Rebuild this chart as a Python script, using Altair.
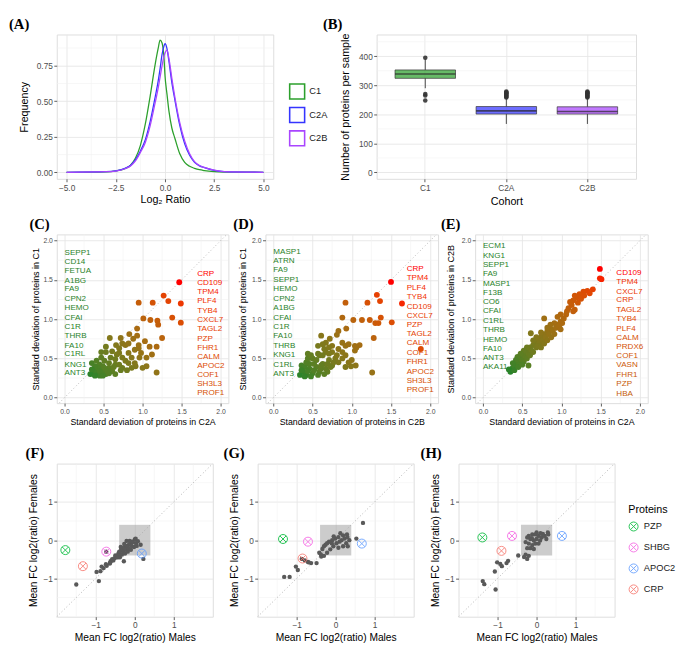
import altair as alt
import pandas as pd

SANS = "Liberation Sans"
SERIF = "Liberation Serif"
AXIS_TXT = "#4d4d4d"
GRID_MAJ = "#e6e6e6"
GRID_MIN = "#f2f2f2"
TICK_C = "#333333"
BORDER = "#7f7f7f"

# ---------------- (A) density of log2 ratios ----------------
cohorts = ["C1", "C2A", "C2B"]
cohort_colors = ["#2ca02c", "#3535ff", "#a945ff"]
dens_x = [-5.0, -3.0, -2.5, -2.0, -1.75, -1.5, -1.25, -1.0, -0.75, -0.5, -0.35, -0.25, -0.15, -0.05,
          0.0, 0.1, 0.2, 0.35, 0.5, 0.75, 1.0, 1.25, 1.5, 1.75, 2.0, 2.5, 3.0, 5.0]
dens_c1 = [0, 0.003, 0.01, 0.028, 0.05, 0.10, 0.19, 0.34, 0.54, 0.76, 0.87, 0.93, 0.91, 0.80,
           0.68, 0.55, 0.43, 0.31, 0.24, 0.13, 0.07, 0.042, 0.028, 0.018, 0.012, 0.005, 0.002, 0]
dens_c2a = [0, 0.004, 0.01, 0.03, 0.05, 0.09, 0.15, 0.23, 0.36, 0.53, 0.64, 0.73, 0.83, 0.89,
            0.905, 0.87, 0.78, 0.63, 0.51, 0.33, 0.20, 0.12, 0.07, 0.045, 0.033, 0.014, 0.005, 0]
dens_c2b = [0, 0.004, 0.009, 0.027, 0.045, 0.08, 0.14, 0.21, 0.33, 0.49, 0.59, 0.67, 0.75, 0.82,
            0.84, 0.86, 0.80, 0.66, 0.53, 0.35, 0.22, 0.13, 0.075, 0.048, 0.034, 0.015, 0.005, 0]

# ---------------- (B) proteins per sample ----------------
box_q1 = [324, 201, 201]
box_med = [339, 212, 210]
box_q3 = [353, 227, 226]
box_lo = [290, 167, 167]
box_hi = [390, 253, 253]
out_cohort = ["C1", "C1", "C1", "C1",
              "C2A", "C2A", "C2A", "C2A", "C2A", "C2A", "C2A", "C2A",
              "C2B", "C2B", "C2B", "C2B", "C2B", "C2B", "C2B", "C2B"]
out_value = [395, 270, 265, 248,
             258, 261, 264, 267, 270, 273, 276, 279,
             258, 261, 264, 267, 270, 273, 276, 279]

# ---------------- (C) SD C2A vs C1 ----------------
c_pts = [(1.47, 1.47), (1.49, 1.20), (1.49, 0.955), (1.27, 1.30), (1.33, 1.23), (1.13, 1.21), (0.95, 1.21),
         (1.38, 1.02), (1.01, 1.01), (1.10, 0.99), (1.19, 0.98), (1.20, 0.93), (1.25, 0.76), (1.18, 0.65),
         (0.93, 0.88), (0.93, 0.79), (1.05, 0.40), (1.00, 0.38), (0.91, 0.40), (1.18, 0.32), (1.03, 0.72),
         (0.83, 0.81), (0.72, 0.76), (0.58, 0.76), (0.95, 0.63), (0.74, 0.69), (0.66, 0.67), (0.53, 0.65),
         (0.47, 0.58), (0.82, 0.57), (0.90, 0.61), (0.98, 0.57), (1.05, 0.51), (1.12, 0.55), (0.35, 0.44),
         (0.74, 0.51), (0.67, 0.55), (0.59, 0.51), (0.51, 0.47), (0.45, 0.42), (0.82, 0.44), (0.74, 0.38),
         (0.65, 0.42), (0.57, 0.38), (0.49, 0.34), (0.43, 0.31), (0.37, 0.30), (0.39, 0.35), (0.53, 0.30),
         (0.61, 0.34), (0.70, 0.42), (0.78, 0.47), (0.86, 0.51), (0.57, 0.44), (0.49, 0.40), (0.43, 0.38),
         (0.47, 0.51), (0.53, 0.58), (0.61, 0.59), (0.70, 0.63), (0.78, 0.67), (0.65, 0.49), (0.39, 0.40),
         (0.33, 0.30), (0.45, 0.28), (0.35, 0.36), (0.41, 0.47), (0.51, 0.38), (0.55, 0.34), (0.63, 0.39),
         (0.72, 0.35), (0.86, 0.38), (0.80, 0.35), (0.45, 0.34), (0.39, 0.28), (0.49, 0.28), (0.57, 0.31),
         (0.65, 0.30), (0.70, 0.57), (0.82, 0.69), (0.88, 0.75), (0.95, 0.67), (1.09, 0.65), (0.90, 0.44),
         (0.96, 0.51)]
c_green = ["SEPP1", "CD14", "FETUA", "A1BG", "FA9", "CPN2", "HEMO", "CFAI", "C1R", "THRB", "FA10",
           "C1RL", "KNG1", "ANT3"]
c_green_y = [1.84, 1.73, 1.61, 1.49, 1.38, 1.26, 1.14, 1.01, 0.90, 0.78, 0.66, 0.55, 0.42, 0.31]
c_red = ["CRP", "CD109", "TPM4", "PLF4", "TYB4", "CXCL7", "TAGL2", "PZP", "FHR1", "CALM", "APOC2",
         "COF1", "SH3L3", "PROF1"]
c_red_y = [1.576, 1.465, 1.346, 1.226, 1.107, 0.988, 0.868, 0.745, 0.63, 0.514, 0.40, 0.284, 0.177, 0.062]
c_red_v = [2.94, 2.85, 2.80, 2.75, 2.70, 2.66, 2.62, 2.58, 2.54, 2.50, 2.47, 2.44, 2.41, 2.38]
c_cdom = [0.62, 2.94]

# ---------------- (D) SD C2B vs C1 ----------------
d_pts = [(1.50, 1.475), (1.64, 1.20), (1.51, 0.96), (1.32, 1.31), (1.36, 1.23), (1.20, 1.21), (0.92, 1.21),
         (1.37, 1.02), (1.13, 0.99), (1.23, 0.99), (1.30, 0.95), (1.34, 0.95), (1.02, 0.99), (0.88, 1.02),
         (1.28, 0.76), (0.93, 0.88), (1.88, 0.62), (1.26, 0.32), (1.05, 0.41), (0.99, 0.40), (0.92, 0.39),
         (1.10, 0.67), (0.81, 0.80), (1.04, 0.66), (0.83, 0.85), (0.72, 0.75), (0.61, 0.79), (0.67, 0.70),
         (0.75, 0.66), (0.88, 0.70), (0.92, 0.66), (0.96, 0.68), (1.06, 0.64), (0.83, 0.62), (0.75, 0.58),
         (0.67, 0.58), (0.59, 0.54), (0.50, 0.50), (0.44, 0.56), (0.46, 0.43), (0.36, 0.41), (0.38, 0.33),
         (0.34, 0.29), (0.42, 0.29), (0.50, 0.31), (0.59, 0.33), (0.67, 0.37), (0.75, 0.41), (0.83, 0.45),
         (0.88, 0.50), (0.79, 0.50), (0.71, 0.48), (0.63, 0.43), (0.55, 0.39), (0.46, 0.37), (0.40, 0.39),
         (0.55, 0.48), (0.63, 0.54), (0.71, 0.56), (0.42, 0.45), (0.52, 0.43), (0.61, 0.37), (0.69, 0.33),
         (0.48, 0.27), (0.40, 0.27), (0.57, 0.29), (0.36, 0.35), (0.44, 0.34), (0.52, 0.35), (0.61, 0.41),
         (0.69, 0.43), (0.77, 0.45), (0.96, 0.45), (1.00, 0.48), (0.92, 0.54), (0.81, 0.54), (0.44, 0.50),
         (0.48, 0.54), (0.57, 0.56), (0.65, 0.62), (0.57, 0.66), (0.63, 0.68), (0.71, 0.64), (1.04, 0.60),
         (0.88, 0.58), (0.73, 0.39), (0.65, 0.30)]
d_green = ["MASP1", "ATRN", "FA9", "SEPP1", "HEMO", "CPN2", "A1BG", "CFAI", "C1R", "FA10", "THRB",
           "KNG1", "C1RL", "ANT3"]
d_green_y = [1.86, 1.74, 1.62, 1.50, 1.38, 1.26, 1.14, 1.02, 0.90, 0.78, 0.66, 0.54, 0.42, 0.30]
d_red = ["CRP", "TPM4", "PLF4", "TYB4", "CD109", "CXCL7", "PZP", "TAGL2", "CALM", "COF1", "FHR1",
         "APOC2", "SH3L3", "PROF1"]
d_red_y = [1.64, 1.52, 1.40, 1.28, 1.16, 1.04, 0.92, 0.81, 0.69, 0.57, 0.45, 0.33, 0.21, 0.095]
d_red_v = [2.97, 2.86, 2.81, 2.76, 2.71, 2.67, 2.63, 2.59, 2.55, 2.51, 2.47, 2.44, 2.41, 2.38]
d_cdom = [0.62, 2.97]

# ---------------- (E) SD C2A vs C2B ----------------
e_pts = [(1.49, 1.64), (1.49, 1.52), (1.51, 1.51), (1.40, 1.38), (1.33, 1.36), (1.28, 1.35), (1.23, 1.32),
         (1.20, 1.28), (1.17, 1.30), (1.15, 1.24), (1.11, 1.22), (1.17, 1.12), (1.07, 1.10), (1.06, 1.06),
         (1.03, 1.01), (0.99, 0.97), (0.95, 0.93), (0.91, 0.95), (0.78, 1.01), (0.87, 0.87), (0.82, 0.85),
         (0.78, 0.81), (0.74, 0.77), (0.61, 0.82), (0.70, 0.73), (0.66, 0.69), (0.64, 0.67), (0.60, 0.64),
         (0.58, 0.60), (0.54, 0.58), (0.52, 0.54), (0.49, 0.52), (0.46, 0.48), (0.44, 0.46), (0.42, 0.42),
         (0.38, 0.38), (0.36, 0.36), (0.33, 0.36), (0.40, 0.40), (0.58, 0.41), (0.48, 0.44), (0.50, 0.48),
         (0.54, 0.52), (0.58, 0.56), (0.62, 0.60), (0.68, 0.64), (0.72, 0.69), (0.76, 0.73), (0.80, 0.77),
         (0.84, 0.81), (0.89, 0.85), (0.93, 0.89), (0.97, 0.91), (1.01, 0.95), (0.86, 0.93), (0.82, 0.89),
         (0.74, 0.83), (0.68, 0.77), (0.64, 0.73), (0.70, 0.66), (0.56, 0.64), (0.52, 0.60), (0.48, 0.56),
         (0.44, 0.52), (0.42, 0.48), (0.38, 0.44), (0.46, 0.42), (0.52, 0.46), (0.56, 0.50), (0.60, 0.54),
         (0.64, 0.58), (0.74, 0.64), (0.78, 0.69), (0.82, 0.73), (0.87, 0.77), (0.91, 0.81), (0.99, 0.87),
         (1.09, 1.14), (1.13, 1.18), (1.21, 1.21), (1.25, 1.26), (1.29, 1.30), (1.36, 1.33), (1.15, 1.10),
         (0.99, 1.06), (0.95, 1.03), (0.35, 0.33), (0.40, 0.35), (0.45, 0.39), (0.50, 0.42)]
e_green = ["ECM1", "KNG1", "SEPP1", "FA9", "MASP1", "F13B", "CO6", "CFAI", "C1RL", "THRB", "HEMO",
           "FA10", "ANT3", "AKA11"]
e_green_y = [1.93, 1.81, 1.69, 1.57, 1.45, 1.33, 1.22, 1.10, 0.98, 0.86, 0.74, 0.62, 0.50, 0.39]
e_red = ["CD109", "TPM4", "CXCL7", "CRP", "TAGL2", "TYB4", "PLF4", "CALM", "PRDX6", "COF1", "VASN",
         "FHR1", "PZP", "HBA"]
e_red_y = [1.59, 1.47, 1.35, 1.24, 1.12, 1.00, 0.88, 0.76, 0.64, 0.53, 0.41, 0.29, 0.17, 0.05]
e_red_v = [3.13, 2.92, 2.84, 2.78, 2.72, 2.67, 2.62, 2.56, 2.51, 2.46, 2.41, 2.37, 2.33, 2.29]
e_cdom = [0.68, 3.13]

sd_xdomain = [-0.1, 2.1]
sd_ydomain = [-0.07, 2.08]
sd_label_x = [0.0, 1.70]

# ---------------- (F)(G)(H) mean fold-change females vs males ----------------
f_pts = [(-1.50, -1.16), (-0.92, -1.07), (-0.98, -0.83), (-0.88, -0.81), (-0.85, -0.69), (-0.80, -0.73),
         (-0.74, -0.63), (-0.72, -0.67), (-0.64, -0.61), (-0.63, -0.59), (-0.59, -0.53), (-0.55, -0.53),
         (-0.47, -0.45), (-0.43, -0.45), (-0.39, -0.37), (-0.31, -0.28), (-0.28, -0.55), (-0.23, -0.20),
         (-0.15, -0.12), (-0.07, -0.04), (0.00, 0.02), (0.15, -0.12), (0.22, -0.49), (-0.73, -0.30),
         (-0.62, -0.55), (-0.58, -0.50), (-0.52, -0.47), (-0.50, -0.40), (-0.45, -0.42), (-0.42, -0.35),
         (-0.40, -0.30), (-0.38, -0.45), (-0.35, -0.25), (-0.33, -0.38), (-0.30, -0.30), (-0.28, -0.20),
         (-0.25, -0.35), (-0.22, -0.25), (-0.20, -0.15), (-0.18, -0.30), (-0.15, -0.22), (-0.12, -0.10),
         (-0.10, -0.25), (-0.08, -0.15), (-0.05, -0.05), (-0.02, -0.18), (0.03, -0.08), (0.05, -0.15),
         (0.08, -0.03), (-0.21, -0.02), (-0.13, -0.02), (0.02, 0.04), (-0.36, -0.18), (-0.27, -0.10)]
g_pts = [(-1.32, -0.96), (-1.18, -0.96), (-1.02, -0.69), (-0.97, -0.78), (-0.87, -0.49), (-0.79, -0.53),
         (-0.71, -0.57), (-0.63, -0.60), (-0.49, -0.60), (-0.42, -0.33), (-0.38, -0.37), (-0.37, -0.43),
         (-0.30, -0.41), (-0.22, -0.33), (-0.34, -0.23), (-0.26, -0.12), (-0.17, -0.04), (-0.09, 0.00),
         (-0.01, 0.04), (0.07, 0.08), (0.19, 0.12), (0.29, 0.15), (0.35, 0.00), (0.27, -0.08), (0.19, -0.16),
         (0.07, -0.20), (-0.06, -0.16), (-0.14, -0.24), (0.10, -0.04), (0.02, -0.08), (-0.10, -0.08),
         (-0.22, -0.08), (-0.30, -0.16), (0.23, 0.04), (0.15, 0.00), (0.31, -0.16), (0.53, 0.04), (0.70, 0.45),
         (-0.69, -0.58), (0.12, 0.18), (-0.05, 0.10), (0.30, 0.08)]
h_pts = [(-1.05, -1.29), (-1.38, -1.07), (-1.34, -1.15), (-1.07, -0.82), (-1.01, -0.58), (-0.93, -0.62),
         (-0.89, -0.68), (-0.77, -0.60), (-0.73, -0.54), (-0.47, -0.40), (-0.28, -0.38), (-0.20, -0.41),
         (-0.24, -0.49), (-0.32, -0.44), (-0.20, 0.11), (-0.11, 0.15), (-0.03, 0.15), (0.05, 0.11),
         (0.13, 0.07), (0.21, 0.11), (0.30, 0.15), (0.29, 0.20), (-0.16, 0.03), (-0.07, -0.01), (0.00, 0.03),
         (0.09, -0.01), (-0.20, -0.09), (-0.11, -0.13), (-0.03, -0.09), (0.05, -0.09), (-0.16, -0.21),
         (-0.24, -0.21), (-0.07, -0.23), (0.00, 0.20), (0.25, 0.03), (-0.24, 0.07), (-0.28, -0.05),
         (0.16, 0.16), (-0.12, 0.05), (0.10, 0.18)]
proteins = ["PZP", "SHBG", "APOC2", "CRP"]
protein_colors = ["#00ba38", "#f564e3", "#619cff", "#f8766d"]
f_mark_x = [-1.78, -0.73, 0.18, -1.33]
f_mark_y = [-0.26, -0.30, -0.35, -0.68]
g_mark_x = [-1.35, -0.71, 0.67, -0.85]
g_mark_y = [0.03, -0.04, -0.09, -0.48]
h_mark_x = [-1.39, -0.63, 0.65, -0.90]
h_mark_y = [0.07, 0.11, 0.11, -0.28]
fc_domain = [-2.0, 2.0]
fc_box = [-0.4, 0.4]

OTIMES = ("M-1,0A1,1,0,1,1,1,0A1,1,0,1,1,-1,0Z"
          "M-0.7071,-0.7071L0.7071,0.7071M-0.7071,0.7071L0.7071,-0.7071")


# ---------------- helpers ----------------
def base_axis(title, lab, tsize, values=None, fmt=None, **pos):
    kw = dict(title=title, grid=True, gridColor=GRID_MAJ, gridWidth=0.9, domain=False,
              ticks=True, tickSize=3, tickColor=TICK_C, tickWidth=0.8,
              labelFont=SANS, labelFontSize=lab, labelColor=AXIS_TXT, labelPadding=1.5,
              labelFlush=False, labelOverlap=False,
              titleFont=SANS, titleFontSize=tsize, titleFontWeight="normal", titleColor="#000000")
    if values is not None:
        kw["values"] = values
    if fmt is not None:
        kw["format"] = fmt
    kw.update(pos)
    return alt.Axis(**kw)


def xax(title, W, ty, lab, tsize, values=None, fmt=None, **extra):
    return base_axis(title, lab, tsize, values, fmt, titleX=W / 2, titleY=ty, titleAngle=0,
                     titleAlign="center", titleBaseline="alphabetic", labelAngle=0, **extra)


def yax(title, H, tx, lab, tsize, values=None, fmt=None):
    return base_axis(title, lab, tsize, values, fmt, titleX=tx, titleY=H / 2, titleAngle=270,
                     titleAlign="center", titleBaseline="middle")


def vgrid(vals, sc, axis):
    return alt.Chart(pd.DataFrame({"g": vals})).mark_rule(color=GRID_MIN, strokeWidth=0.6).encode(
        x=alt.X("g:Q", scale=sc, axis=axis))


def hgrid(vals, sc, axis):
    return alt.Chart(pd.DataFrame({"g": vals})).mark_rule(color=GRID_MIN, strokeWidth=0.6).encode(
        y=alt.Y("g:Q", scale=sc, axis=axis))


def tag(text, x, y):
    return alt.Chart(pd.DataFrame({"t": [text]})).mark_text(
        font=SERIF, fontSize=15, fontWeight="bold", align="left", baseline="top", color="#000000"
    ).encode(x=alt.value(x), y=alt.value(y), text="t:N")


# ---------------- (A) ----------------
WA, HA = 222, 148
a_rows = []
for name, ys in zip(cohorts, [dens_c1, dens_c2a, dens_c2b]):
    for xv, yv in zip(dens_x, ys):
        a_rows.append({"cohort": name, "x": xv, "y": yv})
a_df = pd.DataFrame(a_rows)
ax_sc = alt.Scale(domain=[-5.5, 5.5], nice=False, zero=False)
ay_sc = alt.Scale(domain=[-0.046, 0.97], nice=False, zero=False)
a_xa = xax("Log₂ Ratio", WA, 24, 8.5, 11, [-5, -2.5, 0, 2.5, 5], ".1f")
a_ya = yax("Frequency", HA, -33, 8.5, 11, [0, 0.25, 0.5, 0.75], ".2f")
a_lines = alt.Chart(a_df).mark_line(strokeWidth=1.3, interpolate="monotone").encode(
    x=alt.X("x:Q", scale=ax_sc, axis=a_xa),
    y=alt.Y("y:Q", scale=ay_sc, axis=a_ya),
    color=alt.Color("cohort:N", scale=alt.Scale(domain=cohorts, range=cohort_colors),
                    legend=alt.Legend(title=None, orient="none", legendX=WA + 16, legendY=50,
                                      symbolType="square", symbolSize=235, symbolStrokeWidth=1.6,
                                      symbolFillColor="white", labelFont=SANS, labelFontSize=9.5,
                                      labelColor="#1a1a1a", rowPadding=1, labelOffset=4)),
)
panel_a = alt.layer(
    vgrid([-3.75, -1.25, 1.25, 3.75], ax_sc, a_xa),
    hgrid([0.125, 0.375, 0.625, 0.875], ay_sc, a_ya),
    a_lines,
    tag("(A)", -49, -18),
).properties(width=WA, height=HA)

# ---------------- (B) ----------------
WB, HB = 266, 148
b_df = pd.DataFrame({"cohort": cohorts, "q1": box_q1, "med": box_med, "q3": box_q3,
                     "lo": box_lo, "hi": box_hi})
o_df = pd.DataFrame({"cohort": out_cohort, "value": out_value})
by_sc = alt.Scale(domain=[-22, 475], nice=False, zero=False)
bx_sc = alt.Scale(domain=cohorts, paddingInner=0, paddingOuter=0.1)
b_xa = xax("Cohort", WB, 26, 8.5, 11, bandPosition=0.5)
b_ya = yax("Number of proteins per sample", HB, -32, 8.5, 11, [0, 100, 200, 300, 400], "d")


def bx():
    return alt.X("cohort:N", scale=bx_sc, axis=b_xa)


def by(field):
    return alt.Y(field, scale=by_sc, axis=b_ya)


b_color = alt.Color("cohort:N", scale=alt.Scale(domain=cohorts, range=cohort_colors), legend=None)
b_whisk_lo = alt.Chart(b_df).mark_rule(color="#333333", strokeWidth=0.9).encode(
    x=bx(), y=by("lo:Q"), y2="q1:Q")
b_whisk_hi = alt.Chart(b_df).mark_rule(color="#333333", strokeWidth=0.9).encode(
    x=bx(), y=by("q3:Q"), y2="hi:Q")
b_box = alt.Chart(b_df).mark_bar(size=62, stroke="#333333", strokeWidth=0.7, fillOpacity=0.72).encode(
    x=bx(), y=by("q1:Q"), y2="q3:Q", color=b_color)
b_med = alt.Chart(b_df).mark_tick(size=62, thickness=1.6, color="#262626", orient="horizontal").encode(
    x=bx(), y=by("med:Q"))
b_out = alt.Chart(o_df).mark_circle(size=22, color="#333333", opacity=0.9).encode(
    x=bx(), y=by("value:Q"))
panel_b = alt.layer(
    hgrid([50, 150, 250, 350, 450], by_sc, b_ya),
    b_whisk_lo, b_whisk_hi, b_box, b_med, b_out,
    tag("(B)", -55, -18),
).properties(width=WB, height=HB)


# ---------------- (C)(D)(E) ----------------
def sd_panel(label, label_x, pts, g_names, g_y, r_names, r_y, r_v, cdom, xtitle, ytitle, W, H, ytx):
    sx = alt.Scale(domain=sd_xdomain, nice=False, zero=False)
    sy = alt.Scale(domain=sd_ydomain, nice=False, zero=False)
    xa = xax(xtitle, W, 21.5, 7, 9, [0, 0.5, 1, 1.5, 2], ".1f")
    ya = yax(ytitle, H, ytx, 7, 9.2, [0, 0.5, 1, 1.5, 2], ".1f")
    csc = alt.Scale(domain=cdom, range=["#2a832a", "#ff0000"], interpolate="lab")
    df = pd.DataFrame({"x": [p[0] for p in pts], "y": [p[1] for p in pts]})
    lab_df = pd.DataFrame({
        "name": g_names + r_names,
        "x": [sd_label_x[0]] * len(g_names) + [sd_label_x[1]] * len(r_names),
        "y": g_y + r_y,
        "v": [cdom[0]] * len(g_names) + r_v,
    })
    diag = alt.Chart(pd.DataFrame({"x": sd_xdomain, "y": sd_xdomain})).mark_line(
        color="#b0b0b0", strokeDash=[1, 2.5], strokeWidth=0.9, clip=True).encode(
        x=alt.X("x:Q", scale=sx, axis=xa), y=alt.Y("y:Q", scale=sy, axis=ya))
    points = alt.Chart(df).transform_calculate(v="datum.x + datum.y").mark_circle(
        size=36, opacity=1).encode(
        x=alt.X("x:Q", scale=sx, axis=xa),
        y=alt.Y("y:Q", scale=sy, axis=ya),
        color=alt.Color("v:Q", scale=csc, legend=None))
    labels = alt.Chart(lab_df).mark_text(font=SANS, fontSize=8.3, align="left", baseline="middle").encode(
        x=alt.X("x:Q", scale=sx, axis=xa), y=alt.Y("y:Q", scale=sy, axis=ya), text="name:N",
        color=alt.Color("v:Q", scale=csc, legend=None))
    return alt.layer(
        vgrid([0.25, 0.75, 1.25, 1.75], sx, xa),
        hgrid([0.25, 0.75, 1.25, 1.75], sy, ya),
        diag, points, labels,
        tag(label, label_x, -18),
    ).properties(width=W, height=H)


H2 = 173
panel_c = sd_panel("(C)", -28, c_pts, c_green, c_green_y, c_red, c_red_y, c_red_v, c_cdom,
                   "Standard deviation of proteins in C2A", "Standard deviation of proteins in C1",
                   176, H2, -22)
panel_d = sd_panel("(D)", -33, d_pts, d_green, d_green_y, d_red, d_red_y, d_red_v, d_cdom,
                   "Standard deviation of proteins in C2B", "Standard deviation of proteins in C1",
                   177, H2, -23)
panel_e = sd_panel("(E)", -35, e_pts, e_green, e_green_y, e_red, e_red_y, e_red_v, e_cdom,
                   "Standard deviation of proteins in C2A", "Standard deviation of proteins in C2B",
                   177, H2, -25)


# ---------------- (F)(G)(H) ----------------
def fc_panel(label, label_x, pts, mx, my, W, H, legend):
    sc = alt.Scale(domain=fc_domain, nice=False, zero=False)
    xa = xax("Mean FC log2(ratio) Males", W, 24, 8.5, 10.5, [-1, 0, 1], "d")
    ya = yax("Mean FC log2(ratio) Females", H, -24, 8.5, 10.5, [-1, 0, 1], "d")
    df = pd.DataFrame({"x": [p[0] for p in pts], "y": [p[1] for p in pts]})
    mdf = pd.DataFrame({"protein": proteins, "x": mx, "y": my})
    rect = alt.Chart(pd.DataFrame({"x": [fc_box[0]], "x2": [fc_box[1]], "y": [fc_box[0]], "y2": [fc_box[1]]})
                     ).mark_rect(color="#9a9a9a", opacity=0.5).encode(
        x=alt.X("x:Q", scale=sc, axis=xa), x2="x2:Q",
        y=alt.Y("y:Q", scale=sc, axis=ya), y2="y2:Q")
    diag = alt.Chart(pd.DataFrame({"x": fc_domain, "y": fc_domain})).mark_line(
        color="#a8a8a8", strokeDash=[1, 2.5], strokeWidth=0.9).encode(
        x=alt.X("x:Q", scale=sc, axis=xa), y=alt.Y("y:Q", scale=sc, axis=ya))
    pts_l = alt.Chart(df).mark_circle(size=20, color="#595959", opacity=1).encode(
        x=alt.X("x:Q", scale=sc, axis=xa), y=alt.Y("y:Q", scale=sc, axis=ya))
    if legend:
        leg = alt.Legend(title="Proteins", orient="none", legendX=W + 14, legendY=42,
                         symbolType=OTIMES, symbolSize=85, symbolStrokeWidth=1,
                         titleFont=SANS, titleFontSize=11, titleFontWeight="normal", titleColor="#000000",
                         labelFont=SANS, labelFontSize=9.5, labelColor="#1a1a1a",
                         rowPadding=6.5, titlePadding=6, labelOffset=5)
        col = alt.Color("protein:N", scale=alt.Scale(domain=proteins, range=protein_colors), legend=leg)
    else:
        col = alt.Color("protein:N", scale=alt.Scale(domain=proteins, range=protein_colors), legend=None)
    marks = alt.Chart(mdf).mark_point(shape=OTIMES, filled=False, size=85, strokeWidth=1, opacity=0.85).encode(
        x=alt.X("x:Q", scale=sc, axis=xa), y=alt.Y("y:Q", scale=sc, axis=ya), color=col)
    return alt.layer(
        vgrid([-1.5, -0.5, 0.5, 1.5], sc, xa),
        hgrid([-1.5, -0.5, 0.5, 1.5], sc, ya),
        rect, diag, pts_l, marks,
        tag(label, label_x, -18),
    ).properties(width=W, height=H)


W3, H3 = 160, 157
panel_f = fc_panel("(F)", -32, f_pts, f_mark_x, f_mark_y, W3, H3, False)
panel_g = fc_panel("(G)", -35, g_pts, g_mark_x, g_mark_y, W3, H3, False)
panel_h = fc_panel("(H)", -39, h_pts, h_mark_x, h_mark_y, W3, H3, True)

IND = dict(x="independent", y="independent", color="independent")
row1 = alt.hconcat(panel_a, panel_b, spacing=106, bounds="flush").resolve_scale(**IND)
row2 = alt.hconcat(panel_c, panel_d, panel_e, spacing=38, bounds="flush").resolve_scale(**IND)
row3 = alt.hconcat(panel_f, panel_g, panel_h, spacing=46, bounds="flush").resolve_scale(**IND)
top = alt.vconcat(row1, row2, spacing=9).resolve_scale(**IND)
chart = alt.vconcat(top, row3, spacing=19, padding=0).resolve_scale(**IND).configure_view(
    stroke=BORDER, strokeWidth=1).configure(font=SANS)

chart.save("out.html", embed_options={"renderer": "svg", "actions": False})
